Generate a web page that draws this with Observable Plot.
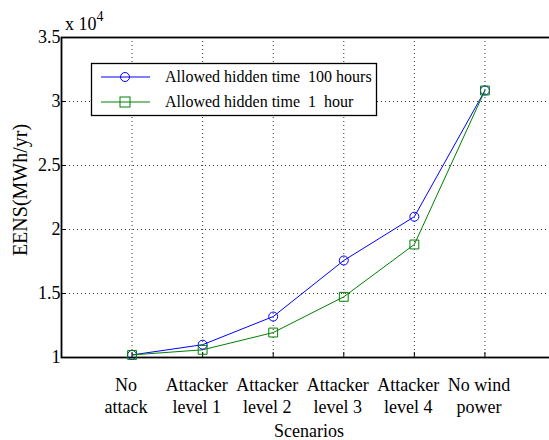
<!DOCTYPE html>
<html><head><meta charset="utf-8">
<script src="https://cdn.jsdelivr.net/npm/d3@7"></script>
<script src="https://cdn.jsdelivr.net/npm/@observablehq/plot@0.6"></script>
<style>body{margin:0;background:#fff}</style>
</head><body><div id="chart"></div>
<script>
const scenarios = ["No\nattack", "Attacker\nlevel 1", "Attacker\nlevel 2", "Attacker\nlevel 3", "Attacker\nlevel 4", "No wind\npower"];
const hidden100 = [1.02, 1.10, 1.32, 1.758, 2.10, 3.086];
const hidden1 = [1.02, 1.06, 1.195, 1.474, 1.883, 3.086];
const seriesNames = ["Allowed hidden time  100 hours", "Allowed hidden time  1  hour"];
const seriesColors = ["#0000ff", "#008000"];
const yTicks = [1, 1.5, 2, 2.5, 3, 3.5];

const idx = scenarios.map((_, i) => i + 1);
const rows = [];
idx.forEach((x, i) => {
  rows.push({x, y: hidden100[i], s: seriesNames[0]});
  rows.push({x, y: hidden1[i], s: seriesNames[1]});
});
const r0 = rows.filter(d => d.s === seriesNames[0]);
const r1 = rows.filter(d => d.s === seriesNames[1]);

const font = "Liberation Serif, Times New Roman, serif";
const plot = Plot.plot({
  width: 549, height: 440,
  marginLeft: 61, marginRight: -6, marginTop: 37, marginBottom: 83,
  style: {fontFamily: font, fontSize: "18px", background: "white", color: "black"},
  x: {domain: [0, 7], label: null},
  y: {domain: [1, 3.5], label: null},
  marks: [
    Plot.gridX(idx, {stroke: "#000", strokeOpacity: 0.8, strokeDasharray: "1,3"}),
    Plot.gridY(yTicks.slice(1, -1), {stroke: "#000", strokeOpacity: 0.8, strokeDasharray: "1,3"}),
    Plot.axisX(idx, {tickSize: -5, text: null, strokeWidth: 1, label: null}),
    Plot.axisX(idx, {tickSize: 0, tickPadding: 19, dx: -6, tickFormat: i => scenarios[i - 1], lineHeight: 1.17, fontSize: 18, label: null}),
    Plot.axisY(yTicks, {tickSize: -5, text: null, label: null}),
    Plot.axisY(yTicks, {tickSize: 0, tickPadding: 1, tickFormat: d => String(d), fontSize: 18, label: null}),
    Plot.frame({stroke: "black", strokeWidth: 1.8}),
    Plot.line(r0, {x: "x", y: "y", stroke: seriesColors[0], strokeWidth: 1}),
    Plot.line(r1, {x: "x", y: "y", stroke: seriesColors[1], strokeWidth: 1}),
    Plot.dot(r0, {x: "x", y: "y", stroke: seriesColors[0], r: 4.5, symbol: "circle", strokeWidth: 1}),
    Plot.dot(r1, {x: "x", y: "y", stroke: seriesColors[1], r: 5, symbol: "square", strokeWidth: 1})
  ]
});
document.getElementById("chart").appendChild(plot);

const svg = d3.select(plot);
// x 10^4 multiplier
const mt = svg.append("text").attr("x", 65).attr("y", 30).attr("text-anchor", "start")
  .attr("font-family", font).attr("font-size", 18);
mt.append("tspan").text("x 10");
mt.append("tspan").attr("dy", -9).attr("font-size", 14).text("4");
// axis labels
svg.append("text").attr("x", 309).attr("y", 437).attr("text-anchor", "middle")
  .attr("font-family", font).attr("font-size", 18).text("Scenarios");
svg.append("text").attr("transform", "translate(27,190) rotate(-90)").attr("text-anchor", "middle")
  .attr("font-family", font).attr("font-size", 20).text("EENS(MWh/yr)");
// legend
const lg = svg.append("g").attr("text-anchor", "start");
lg.append("rect").attr("x", 91.5).attr("y", 63.5).attr("width", 285).attr("height", 52)
  .attr("fill", "white").attr("stroke", "black").attr("stroke-width", 1.3);
seriesNames.forEach((name, i) => {
  const yy = 77 + i * 25;
  lg.append("line").attr("x1", 101).attr("x2", 150).attr("y1", yy).attr("y2", yy)
    .attr("stroke", seriesColors[i]).attr("stroke-width", 1);
  if (i === 0) lg.append("circle").attr("cx", 125).attr("cy", yy).attr("r", 4.5).attr("fill", "none").attr("stroke", seriesColors[i]);
  else lg.append("rect").attr("x", 120).attr("y", yy - 5).attr("width", 10).attr("height", 10).attr("fill", "none").attr("stroke", seriesColors[i]);
  lg.append("text").attr("x", 165).attr("y", yy + 5).attr("text-anchor", "start").attr("font-family", font).attr("font-size", 16)
    .style("white-space", "pre").text(name);
});
</script></body></html>
